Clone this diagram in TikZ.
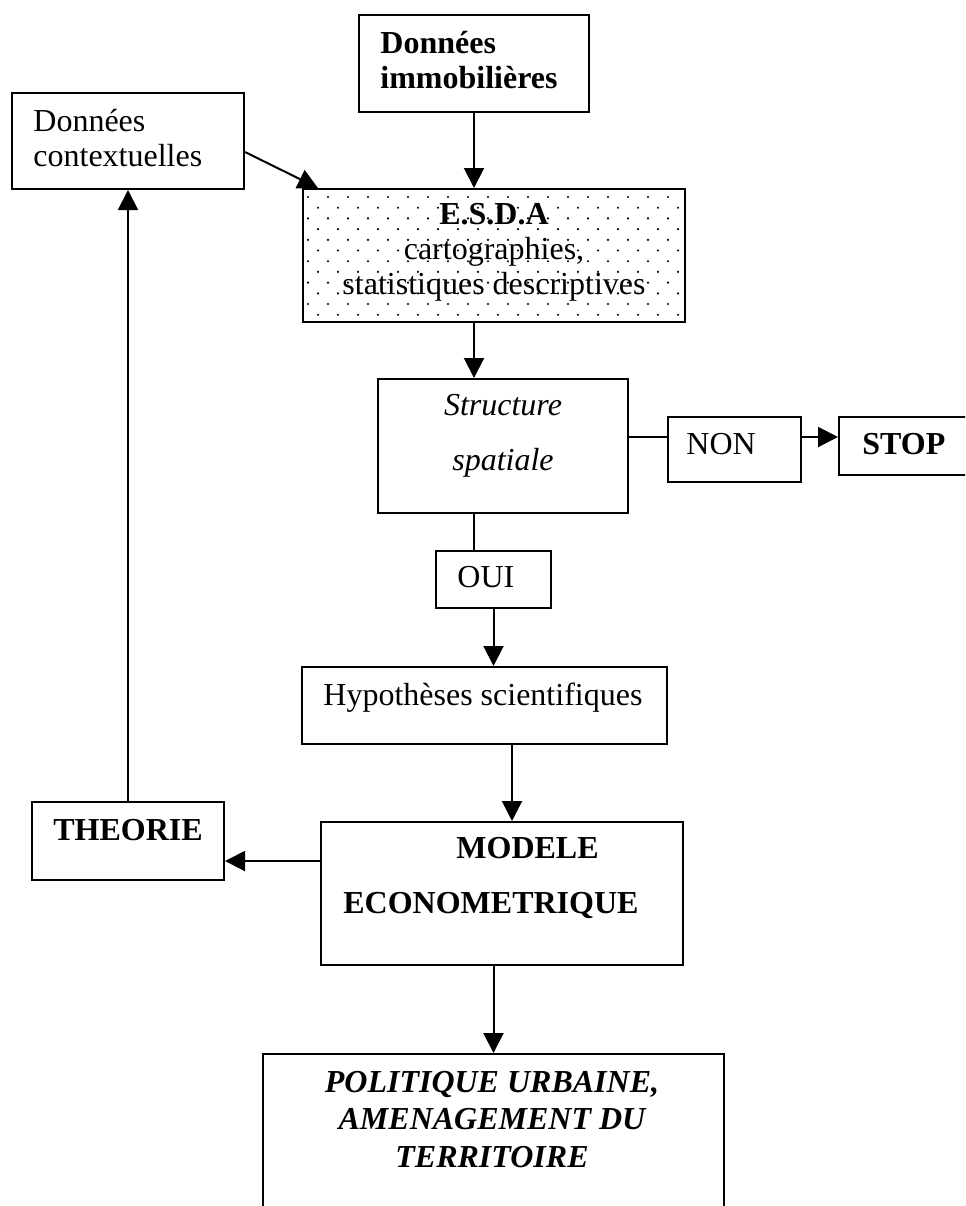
\documentclass[tikz,border=0pt]{standalone}
\usepackage{fontspec}
\setmainfont{Liberation Serif}
\usetikzlibrary{arrows.meta,fit}
\begin{document}
\begin{tikzpicture}[x=0.5pt,y=-0.5pt,
  box/.style={draw,line width=1pt,inner sep=0pt},
  txt/.style={inner sep=0pt,font=\fontsize{16}{17.5}\selectfont},
  arr/.style={line width=1pt,-{Triangle[length=10pt,width=10pt]}},
  ln/.style={line width=1pt}]
\useasboundingbox (0,0) rectangle (965,1206);
\clip (0,0) rectangle (965,1206);
% boxes
\node[box,fit={(359,15)(589,112)}] (immob) {};
\node[box,fit={(12,93)(244,189)}] (ctx) {};
\node[box,fit={(303,189)(685,322)}] (esda) {};
\node[box,fit={(378,379)(628,513)}] (struct) {};
\node[box,fit={(668,417)(801,482)}] (non) {};
\node[box,fit={(839,417)(990,475)}] (stop) {};
\node[box,fit={(436,551)(551,608)}] (oui) {};
\node[box,fit={(302,667)(667,744)}] (hyp) {};
\node[box,fit={(32,802)(224,880)}] (theorie) {};
\node[box,fit={(321,822)(683,965)}] (modele) {};
\node[box,fit={(263,1054)(724,1240)}] (pol) {};
% dotted fill of E.S.D.A box
\begin{scope}
\clip ([shift={(1,-1)}]esda.south west) rectangle ([shift={(-1,1)}]esda.north east);
\foreach \r in {0,...,12} {
  \foreach \c in {0,...,19} {
    \fill ({308+20*\c+10*mod(\r,2)},{197+10.7*\r}) circle (0.6pt);
  }
}
\end{scope}
% texts (base anchor = baseline of the last line)
\node[txt,align=left,anchor=base west] (timmob) at (380,88) {\textbf{Données}\\\textbf{immobilières}};
\node[txt,align=left,anchor=base west] (tctx) at (33,166) {Données\\contextuelles};
\node[txt,align=center,anchor=base] (tesda) at (494,294) {\textbf{E.S.D.A}\\cartographies,\\statistiques descriptives};
\node[txt,align=center,anchor=base] (tstruct) at (503,470) {\textit{Structure}\\[10pt]\textit{spatiale}};
\node[txt,anchor=base west] (tnon) at (686,454) {NON};
\node[txt,anchor=base west] (tstop) at (862,454) {\textbf{STOP}};
\node[txt,anchor=base west] (toui) at (457,587) {OUI};
\node[txt,anchor=base west] (thyp) at (323,705) {Hypothèses scientifiques};
\node[txt,anchor=base west] (ttheorie) at (53,840) {\textbf{THEORIE}};
\node[txt,align=left,anchor=base west] (tmodele) at (343,913) {\hspace*{56.5pt}\textbf{MODELE}\\[10pt]\textbf{ECONOMETRIQUE}};
\node[txt,align=center,anchor=base,font=\fontsize{16}{18.75}\selectfont\bfseries\itshape] (tpol) at (492,1167) {POLITIQUE URBAINE,\\AMENAGEMENT DU\\TERRITOIRE};
% helper coordinates
\coordinate (cx1) at (512,0);
\coordinate (cy1) at (0,861);
\coordinate (cy2) at (0,437);
\coordinate (ce) at (318,0);
% connectors
\draw[arr] (immob.south) -- (immob.south |- esda.north);
\draw[arr] ([yshift=-5.5pt]ctx.east) -- (esda.north -| ce);
\draw[arr] (esda.south -| immob.south) -- (struct.north -| immob.south);
\draw[ln] (struct.east |- cy2) -- (non.west |- cy2);
\draw[arr] (non.east |- cy2) -- (stop.west |- cy2);
\draw[ln] (struct.south -| immob.south) -- (oui.north -| immob.south);
\draw[arr] (oui.south) -- (oui.south |- hyp.north);
\draw[arr] (hyp.south -| cx1) -- (modele.north -| cx1);
\draw[arr] (modele.west |- cy1) -- (theorie.east |- cy1);
\draw[arr] (theorie.north) -- (ctx.south);
\draw[arr] (modele.south -| pol.north) -- (pol.north);
\end{tikzpicture}
\end{document}
